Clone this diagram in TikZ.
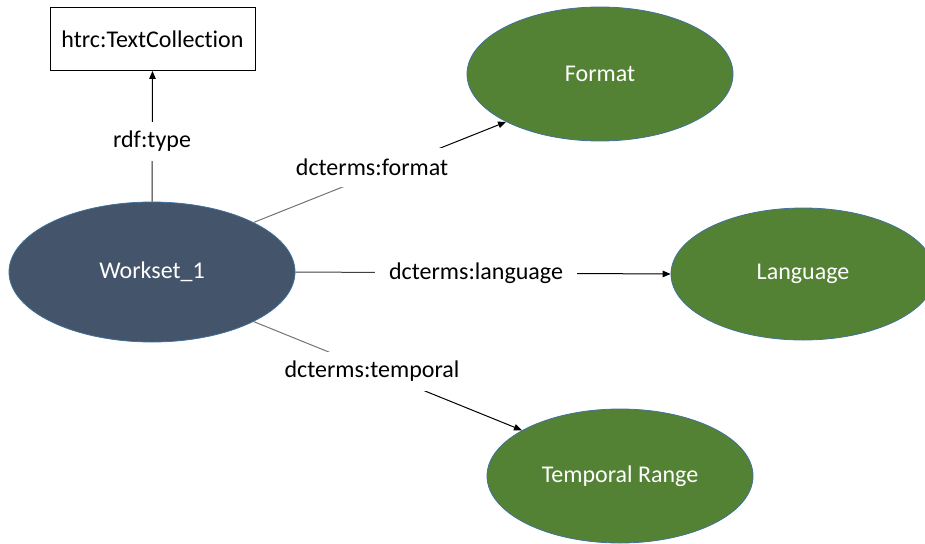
\documentclass[tikz,border=0pt]{standalone}
\usepackage{fontspec}
\setmainfont{Carlito}[Ligatures={NoCommon}]
\usetikzlibrary{shapes.geometric,arrows.meta,calc}
\definecolor{slate}{HTML}{44546A}
\definecolor{leaf}{HTML}{548235}
\definecolor{rim}{HTML}{41719C}
\tikzset{
  every node/.style={font=\fontsize{24}{29}\selectfont},
  ell/.style={ellipse, draw=rim, line width=0.8pt, inner sep=0pt, text=white},
  classbox/.style={draw=black, line width=0.9pt, minimum width=205pt, minimum height=63pt, inner sep=0pt},
  lbl/.style={fill=white, inner xsep=14pt, inner ysep=0pt, minimum height=39pt, text=black},
  srcpart/.style={line width=1pt},
  tippart/.style={line width=1pt, draw=black, -{Triangle[length=8pt,width=6.5pt]}}
}
\begin{document}
\begin{tikzpicture}[x=1pt,y=-1pt]
  \useasboundingbox (0,0) rectangle (925,543);
  \clip (0,0) rectangle (925,543);

  % resources
  \node[classbox] (tc) at (152.5,39) {htrc:TextCollection};
  \node[ell, fill=slate, minimum width=286pt, minimum height=140pt] (w) at (152,272) {Workset\_1};
  \node[ell, fill=leaf, minimum width=266pt, minimum height=134pt] (f) at (600,74) {Format};
  \node[ell, fill=leaf, minimum width=264pt, minimum height=132pt] (l) at (803,274) {Language};
  \node[ell, fill=leaf, minimum width=266pt, minimum height=134pt] (t) at (620,476) {Temporal Range};

  % split points of each property arc
  \path (w.north) -- (tc.south) coordinate[pos=.5] (rmid);
  \path (w.26) -- (f.207) coordinate[pos=.5] (fmid);
  \path (w.east) -- (l.west) coordinate[pos=.5] (lmid);
  \path (w.334) -- (t.155) coordinate[pos=.5] (tmid);

  % property arcs
  \draw[srcpart, draw=black!85] (w.north) -- (rmid);
  \draw[tippart] (rmid) -- (tc.south);
  \draw[srcpart, draw=black!55] (w.26) -- (fmid);
  \draw[tippart] (fmid) -- (f.207);
  \draw[srcpart, draw=black!75] (w.east) -- (lmid);
  \draw[tippart] (lmid) -- (l.west);
  \draw[srcpart, draw=black!55] (w.334) -- (tmid);
  \draw[tippart] (tmid) -- (t.155);

  % property labels
  \node[lbl] (lr) at (152,141) {rdf:type};
  \node[lbl] (lf) at (372,167) {dcterms:format};
  \node[lbl] (ll) at (476,273) {dcterms:language};
  \node[lbl] (lt) at (372,371) {dcterms:temporal};
\end{tikzpicture}
\end{document}
